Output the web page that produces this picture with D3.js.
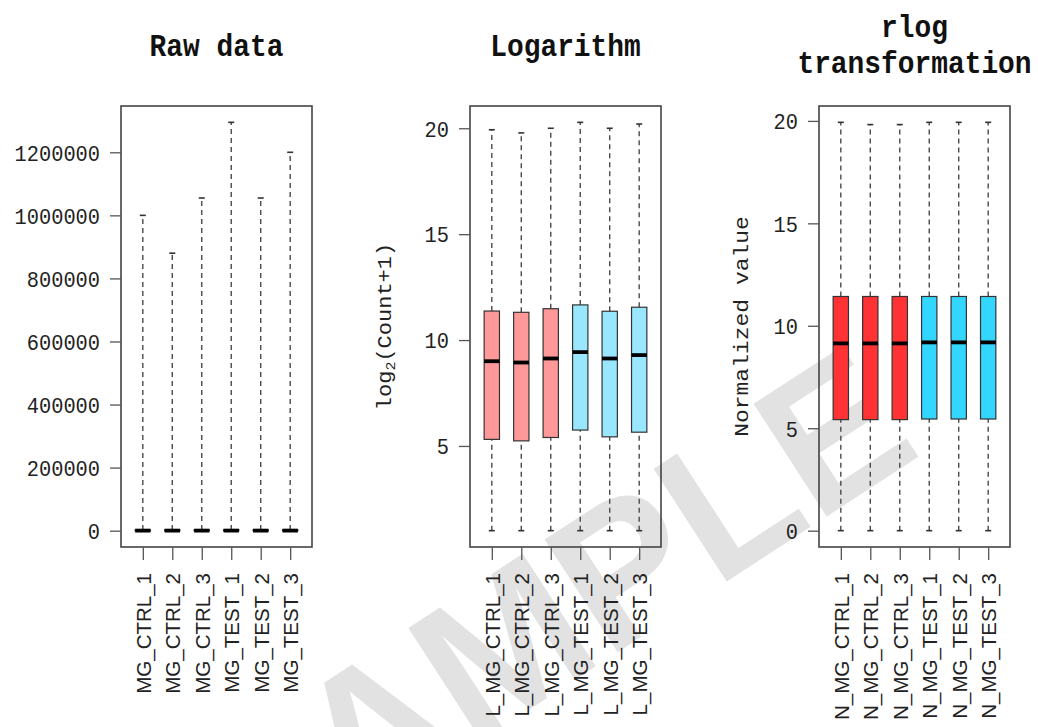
<!DOCTYPE html>
<html>
<head>
<meta charset="utf-8">
<script src="https://cdn.jsdelivr.net/npm/d3@7/dist/d3.min.js"></script>
<style>
  html, body { margin: 0; padding: 0; background: #fff; }
  svg { display: block; }
</style>
</head>
<body>
<svg id="chart" width="1038" height="727"></svg>
<script>
// ---------------- DATA ----------------
const rawLabels  = ["MG_CTRL_1", "MG_CTRL_2", "MG_CTRL_3", "MG_TEST_1", "MG_TEST_2", "MG_TEST_3"];
const logLabels  = ["L_MG_CTRL_1", "L_MG_CTRL_2", "L_MG_CTRL_3", "L_MG_TEST_1", "L_MG_TEST_2", "L_MG_TEST_3"];
const rlogLabels = ["N_MG_CTRL_1", "N_MG_CTRL_2", "N_MG_CTRL_3", "N_MG_TEST_1", "N_MG_TEST_2", "N_MG_TEST_3"];
const groups     = ["CTRL", "CTRL", "CTRL", "TEST", "TEST", "TEST"];

// Raw counts
const rawMin    = [0, 0, 0, 0, 0, 0];
const rawQ1     = [0, 0, 0, 0, 0, 0];
const rawMedian = [200, 200, 200, 250, 200, 230];
const rawQ3     = [2000, 2000, 2100, 2500, 2000, 2300];
const rawMax    = [1000000, 880000, 1055000, 1295000, 1055000, 1200000];
const rawTicks  = [0, 200000, 400000, 600000, 800000, 1000000, 1200000];

// log2(count + 1)
const logMin    = [1.0, 1.0, 1.0, 1.0, 1.0, 1.0];
const logQ1     = [5.31, 5.24, 5.40, 5.75, 5.43, 5.65];
const logMedian = [9.00, 8.94, 9.13, 9.43, 9.13, 9.29];
const logQ3     = [11.37, 11.31, 11.48, 11.66, 11.36, 11.55];
const logMax    = [19.93, 19.78, 20.00, 20.28, 20.00, 20.20];
const logTicks  = [5, 10, 15, 20];

// rlog transformation
const rlogMin    = [0, 0, 0, 0, 0, 0];
const rlogQ1     = [5.42, 5.42, 5.42, 5.45, 5.45, 5.45];
const rlogMedian = [9.14, 9.14, 9.14, 9.19, 9.19, 9.19];
const rlogQ3     = [11.43, 11.43, 11.43, 11.43, 11.43, 11.43];
const rlogMax    = [19.93, 19.82, 19.82, 19.93, 19.93, 19.93];
const rlogTicks  = [0, 5, 10, 15, 20];

// ---------------- DRAW ----------------
const svg = d3.select("#chart");
svg.append("rect").attr("width", 1038).attr("height", 727).attr("fill", "#fff");

const MONO = "'Liberation Mono', 'DejaVu Sans Mono', monospace";
const SANS = "'Liberation Sans', Arial, sans-serif";
const SQ = 0.885; // glyph squeeze (reference text is tall and narrow)

// watermark (behind the plots)
svg.append("text")
  .attr("transform", "translate(584,674) rotate(-33)")
  .attr("text-anchor", "middle")
  .attr("font-family", SANS).attr("font-weight", "bold").attr("font-size", 195)
  .attr("fill", "#b4b4b4").attr("fill-opacity", 0.38)
  .text("SAMPLE");

const panels = [
  { title: ["Raw data"], labels: rawLabels, min: rawMin, q1: rawQ1, med: rawMedian, q3: rawQ3, max: rawMax,
    ticks: rawTicks, x0: 121, x1: 312, colors: { CTRL: "#ffffff", TEST: "#ffffff" }, ylab: null },
  { title: ["Logarithm"], labels: logLabels, min: logMin, q1: logQ1, med: logMedian, q3: logQ3, max: logMax,
    ticks: logTicks, x0: 470, x1: 661, colors: { CTRL: "#ff9999", TEST: "#99e6ff" }, ylab: "log" },
  { title: ["rlog", "transformation"], labels: rlogLabels, min: rlogMin, q1: rlogQ1, med: rlogMedian, q3: rlogQ3, max: rlogMax,
    ticks: rlogTicks, x0: 819, x1: 1010, colors: { CTRL: "#ff3333", TEST: "#33d6ff" }, ylab: "Normalized value" }
];

const yTop = 106, yBot = 547;

panels.forEach(p => {
  const n = p.labels.length;
  const lo = d3.min(p.min), hi = d3.max(p.max);
  const pad = (hi - lo) * 0.04;
  const y = d3.scaleLinear().domain([lo - pad, hi + pad]).range([yBot, yTop]);
  const x = d3.scaleLinear().domain([0.5 - 0.04 * n, n + 0.5 + 0.04 * n]).range([p.x0, p.x1]);
  const g = svg.append("g");
  const hw = x(1.26) - x(1);

  // interior white so watermark sits lightly behind
  g.append("rect").attr("x", p.x0).attr("y", yTop).attr("width", p.x1 - p.x0).attr("height", yBot - yTop)
    .attr("fill", "none");

  p.labels.forEach((lab, i) => {
    const cx = x(i + 1);
    [[p.q3[i], p.max[i]], [p.min[i], p.q1[i]]].forEach(([a, b]) => {
      g.append("line").attr("x1", cx).attr("x2", cx).attr("y1", y(a)).attr("y2", y(b))
        .attr("stroke", "#4a4a4a").attr("stroke-width", 1.4).attr("stroke-dasharray", "5,4");
    });
    [p.max[i], p.min[i]].forEach(v => {
      g.append("line").attr("x1", cx - 3).attr("x2", cx + 3).attr("y1", y(v)).attr("y2", y(v))
        .attr("stroke", "#333").attr("stroke-width", 1.6);
    });
    g.append("rect").attr("x", cx - hw).attr("width", 2 * hw)
      .attr("y", y(p.q3[i])).attr("height", Math.max(0, y(p.q1[i]) - y(p.q3[i])))
      .attr("fill", p.colors[groups[i]]).attr("stroke", "#333").attr("stroke-width", 1.2);
    g.append("line").attr("x1", cx - hw).attr("x2", cx + hw).attr("y1", y(p.med[i])).attr("y2", y(p.med[i]))
      .attr("stroke", "#000").attr("stroke-width", 3.8);
  });

  // frame
  g.append("rect").attr("x", p.x0).attr("y", yTop).attr("width", p.x1 - p.x0).attr("height", yBot - yTop)
    .attr("fill", "none").attr("stroke", "#444").attr("stroke-width", 1.6);

  // y axis
  const yAxis = d3.axisLeft(y).tickValues(p.ticks).tickSize(11).tickPadding(9).tickFormat(d3.format("d"));
  const ya = svg.append("g").attr("transform", `translate(${p.x0},0)`).call(yAxis);
  ya.select(".domain").remove();
  ya.selectAll(".tick line").attr("stroke", "#555").attr("stroke-width", 1.3);
  ya.selectAll(".tick text")
    .attr("font-family", MONO).attr("font-size", 23).attr("fill", "#222")
    .attr("x", -21 / SQ).attr("dy", "0.34em")
    .attr("transform", `scale(${SQ},1)`);

  // x axis
  const xAxis = d3.axisBottom(x).tickValues(d3.range(1, n + 1)).tickSize(13).tickFormat(d => p.labels[d - 1]);
  const xa = svg.append("g").attr("transform", `translate(0,${yBot})`).call(xAxis);
  xa.select(".domain").remove();
  xa.selectAll(".tick line").attr("stroke", "#555").attr("stroke-width", 1.3);
  xa.selectAll(".tick text")
    .attr("font-family", SANS).attr("font-size", 20.5).attr("fill", "#222")
    .attr("transform", "rotate(-90)")
    .attr("text-anchor", "end").attr("dy", "0.36em").attr("y", 0).attr("x", -26);

  // title
  const tcx = (p.x0 + p.x1) / 2;
  const tt = svg.append("text").attr("text-anchor", "middle").attr("font-family", MONO)
    .attr("font-weight", "bold").attr("font-size", 31.5).attr("fill", "#111")
    .attr("transform", `scale(${SQ},1)`);
  if (p.title.length === 1) {
    tt.attr("x", tcx / SQ).attr("y", 56).text(p.title[0]);
  } else {
    tt.append("tspan").attr("x", tcx / SQ).attr("y", 37).text(p.title[0]);
    tt.append("tspan").attr("x", tcx / SQ).attr("y", 73).text(p.title[1]);
  }

  // y label
  const ymid = (yTop + yBot) / 2;
  if (p.ylab === "log") {
    const yl = svg.append("text").attr("transform", `translate(391,${ymid}) rotate(-90) scale(1,${SQ})`)
      .attr("text-anchor", "middle").attr("font-family", MONO).attr("font-size", 22).attr("fill", "#222");
    yl.append("tspan").text("log");
    yl.append("tspan").attr("font-size", 15).attr("dy", 5).text("2");
    yl.append("tspan").attr("dy", -5).text("(Count+1)");
  } else if (p.ylab) {
    svg.append("text").attr("transform", `translate(748,${ymid}) rotate(-90) scale(1,${SQ})`)
      .attr("text-anchor", "middle").attr("font-family", MONO).attr("font-size", 23).attr("fill", "#222")
      .text(p.ylab);
  }
});
</script>
</body>
</html>
